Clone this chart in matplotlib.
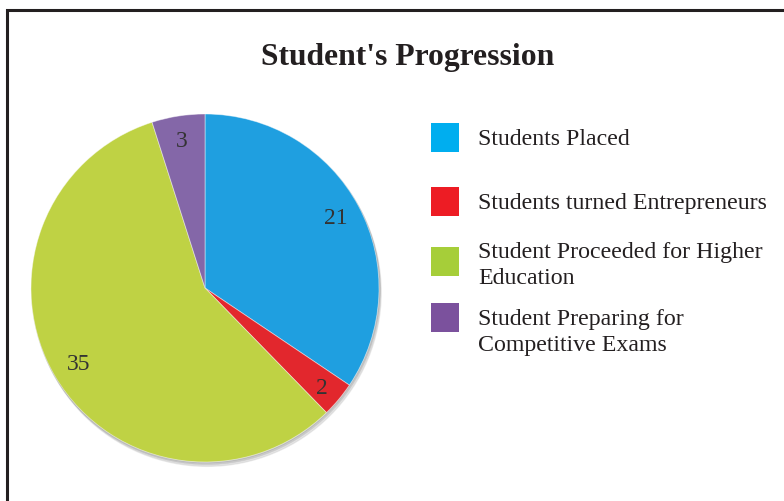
import matplotlib.pyplot as plt
from matplotlib.patches import Rectangle, Circle

# data
categories = ["Students Placed", "Students turned Entrepreneurs",
              "Student Proceeded for Higher\nEducation",
              "Student Preparing for\nCompetitive Exams"]
values = [21, 2, 35, 3]
pie_colors = ["#1f9fe0", "#e2272d", "#bfd244", "#8467a8"]
legend_colors = ["#00aeef", "#ed1c24", "#a6ce39", "#7b519d"]

plt.rcParams['font.family'] = ['Liberation Serif', 'DejaVu Serif']

fig = plt.figure(figsize=(7.84, 5.01), dpi=100)

# frame around the chart (runs off right/bottom edge)
fig.add_artist(Rectangle((7 / 784, -0.1), 1.2, 1 - 10 / 501 + 0.1,
                         transform=fig.transFigure, fill=False,
                         edgecolor="#231f20", linewidth=2.2))

fig.text(408 / 784, 1 - 65 / 501, "Student's Progression", ha="center",
         va="baseline", fontsize=22.8, fontweight="bold", color="#231f20")

# pie
ax = fig.add_axes([31 / 784, 39 / 501, 348 / 784, 348 / 501])
for off, a in [(0.025, 0.08), (0.015, 0.08), (0.007, 0.08)]:
    ax.add_patch(Circle((off * 0.5, -off), 1.0, color="#000000", alpha=a,
                        zorder=0, clip_on=False))
wedges, texts = ax.pie(values, colors=pie_colors, startangle=90, counterclock=False,
                       labels=[str(v) for v in values], labeldistance=0.85,
                       radius=1.0, frame=True,
                       wedgeprops=dict(linewidth=0.6, edgecolor="#ffffff80"),
                       textprops=dict(fontsize=17, color="#333333",
                                      ha="center", va="center"))
texts[1].set_position((0.67, -0.58))
ax.set_xlim(-1.0, 1.0)
ax.set_ylim(-1.0, 1.0)
ax.axis("off")

# legend drawn by hand (baseline of the last line of each entry)
box_tops = [123, 187, 247, 303]
baselines = [145, 209, 284, 351]
for lbl, col, top, base in zip(categories, legend_colors, box_tops, baselines):
    fig.add_artist(Rectangle((431 / 784, 1 - (top + 29) / 501), 28 / 784, 29 / 501,
                             transform=fig.transFigure, facecolor=col,
                             edgecolor="none"))
    fig.text(478 / 784, 1 - base / 501, lbl, ha="left", va="baseline",
             fontsize=17.2, color="#231f20", linespacing=1.32)

fig.savefig("out.png", dpi=100, facecolor="white")
